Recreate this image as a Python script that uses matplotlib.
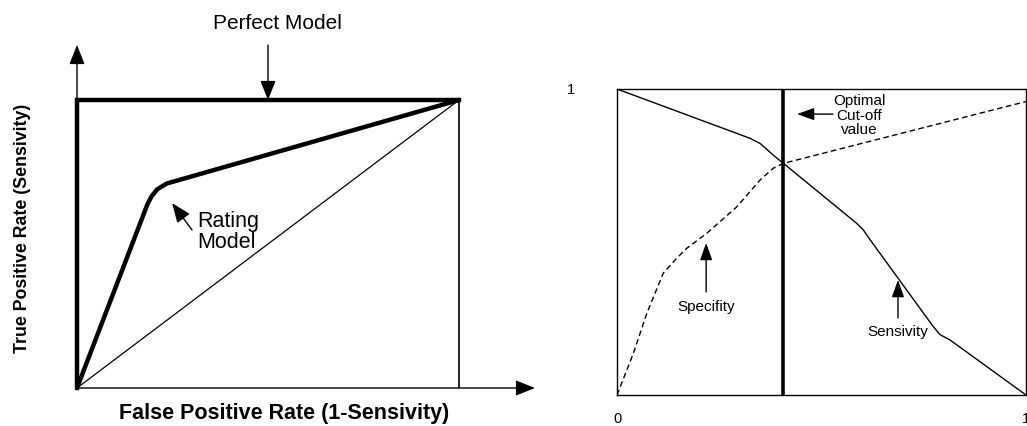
import matplotlib
matplotlib.use('Agg')
import matplotlib.pyplot as plt

plt.rcParams['font.family'] = ['Liberation Sans', 'DejaVu Sans']

# left panel: ROC curves
perfect_x = [0, 0, 1]
perfect_y = [0, 1, 1]
rating_x = [0, 0.185, 0.195, 0.21, 0.235, 1]
rating_y = [0, 0.64, 0.665, 0.69, 0.71, 1]
random_x = [0, 1]
random_y = [0, 1]

# right panel: sensitivity / specificity vs cut-off
sens_x = [0, 0.325, 0.350, 0.382, 0.407, 0.586, 0.602, 0.619, 0.773, 0.790, 0.814, 1]
sens_y = [1, 0.839, 0.822, 0.784, 0.757, 0.561, 0.540, 0.507, 0.224, 0.197, 0.180, 0]
spec_x = [0, 0.04, 0.073, 0.113, 0.146, 0.170, 0.219, 0.293, 0.350, 0.382, 0.407, 1]
spec_y = [0, 0.136, 0.267, 0.398, 0.447, 0.479, 0.528, 0.615, 0.703, 0.741, 0.757, 0.959]
cutoff = 0.406

W, H = 1027, 426
fig = plt.figure(figsize=(W / 100, H / 100), dpi=100)

# ---- left ----
ax1 = fig.add_axes([77 / W, 38 / H, 458 / W, 343 / H])
ax1.set_xlim(0, 458 / 382)
ax1.set_ylim(0, 343 / 288)
ax1.axis('off')

arr = dict(arrowstyle='-|>,head_length=0.7,head_width=0.28', color='black', lw=1,
           shrinkA=0, shrinkB=0, mutation_scale=17)
ax1.annotate('', xy=(0, 343 / 288), xytext=(0, 0), arrowprops=arr, annotation_clip=False)
ax1.annotate('', xy=(458 / 382, 0), xytext=(0, 0), arrowprops=arr, annotation_clip=False)

ax1.plot(random_x, random_y, color='black', lw=0.9)
ax1.plot([1, 1], [0, 1], color='black', lw=1.2)
ax1.plot(perfect_x, perfect_y, color='black', lw=3.2, solid_joinstyle='miter', clip_on=False)
ax1.plot(rating_x, rating_y, color='black', lw=3.2, solid_joinstyle='round', solid_capstyle='round')

ax1.annotate('Perfect Model', xy=(0.5, 1.0), xytext=(0.526, 1.267), ha='center', va='center',
             fontsize=15, annotation_clip=False)
ax1.annotate('', xy=(0.5, 1.0), xytext=(0.5, 1.191), arrowprops=arr, annotation_clip=False)
ax1.text(0.314, 0.542, 'Rating\nModel', ha='left', va='center', fontsize=15.5, linespacing=1.0)
ax1.annotate('', xy=(0.249, 0.642), xytext=(0.301, 0.549), arrowprops=arr)

fig.text(23 / W, 1 - 228 / H, 'True Positive Rate (Sensivity)', rotation=90, ha='center',
         va='center', fontsize=12.8, fontweight='bold')
fig.text(284 / W, 1 - 413 / H, 'False Positive Rate (1-Sensivity)', ha='center',
         va='center', fontsize=15.5, fontweight='bold')

# ---- right ----
ax2 = fig.add_axes([617 / W, 31 / H, 409 / W, 306 / H])
ax2.set_xlim(0, 1)
ax2.set_ylim(0, 1)
for s in ax2.spines.values():
    s.set_linewidth(1.0)
ax2.set_xticks([0, 1])
ax2.set_xticklabels(['0', '1'])
ax2.set_yticks([1])
ax2.set_yticklabels(['1'])
ax2.tick_params(axis='x', length=0, pad=12, labelsize=10.5)
ax2.tick_params(axis='y', length=0, pad=30, labelsize=10.5)

ax2.plot(sens_x, sens_y, color='black', lw=1.0)
ax2.plot(spec_x, spec_y, color='black', lw=1.0, linestyle=(0, (4, 2.5)))
ax2.axvline(cutoff, color='black', lw=2.6)

arr2 = dict(arrowstyle='-|>,head_length=0.7,head_width=0.25', color='black', lw=1,
            shrinkA=0, shrinkB=0, mutation_scale=15)
ax2.text(0.592, 0.912, 'Optimal\nCut-off\nvalue', ha='center', va='center', fontsize=11,
         linespacing=1.05)
ax2.annotate('', xy=(0.44, 0.918), xytext=(0.528, 0.918), arrowprops=arr2)
ax2.text(0.218, 0.288, 'Specifity', ha='center', va='center', fontsize=11)
ax2.annotate('', xy=(0.218, 0.497), xytext=(0.218, 0.337), arrowprops=arr2)
ax2.text(0.687, 0.206, 'Sensivity', ha='center', va='center', fontsize=11)
ax2.annotate('', xy=(0.687, 0.376), xytext=(0.687, 0.252), arrowprops=arr2)

fig.savefig('out.png', dpi=100)
